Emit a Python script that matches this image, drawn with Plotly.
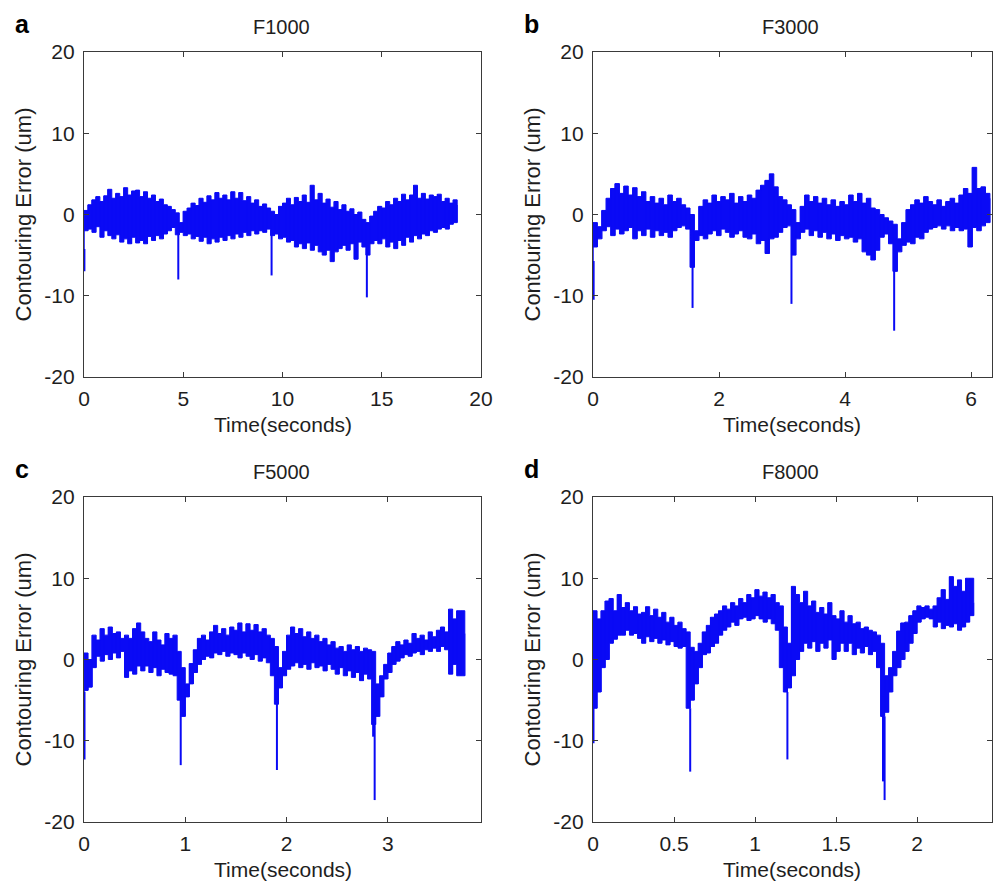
import numpy as np
import plotly.graph_objects as go

# ---------------- data ----------------
# Panel a: F1000, sample interval 0.2 s, upper / lower envelope of the error band (um)
dt_a = 0.2
up_a = [0.5, 1.2, 1.8, 2.2, 1.6, 2.3, 3.1, 2.0, 2.6, 2.2, 3.3, 2.4, 2.9, 3.0, 2.2, 2.8, 2.0, 2.4, 1.6, 1.9,
        1.2, 1.0, 0.6, 0.2, -1.0, 0.4, 0.8, 1.4, 1.1, 2.0, 1.5, 2.3, 1.8, 2.7, 2.0, 2.4, 1.8, 2.8, 2.0, 2.7,
        1.7, 2.2, 1.4, 1.8, 1.0, 1.3, 0.8, 0.4, 0.0, 1.0, 1.4, 2.0, 1.2, 2.1, 1.6, 2.4, 1.5, 3.6, 1.8, 2.6,
        1.4, 1.9, 0.9, 1.6, 0.6, 1.2, 0.4, 0.7, 0.0, 0.3, -0.6, -1.0, -0.2, 0.4, 1.0, 0.8, 1.6, 1.2, 2.0, 1.6,
        2.5, 1.8, 2.4, 3.6, 2.0, 2.6, 1.9, 2.4, 2.2, 2.5, 1.6, 2.0, 1.4, 1.8, 1.2]
lo_a = [-4.5, -2.0, -1.8, -2.2, -1.5, -2.8, -2.0, -2.6, -3.0, -2.5, -3.4, -3.0, -3.6, -2.8, -3.5, -3.2, -3.6, -2.7, -3.2, -2.6,
        -3.0, -2.4, -2.0, -1.6, -2.5, -2.2, -2.6, -2.4, -3.0, -2.7, -3.3, -2.8, -3.6, -3.0, -3.4, -2.8, -3.2, -2.6, -3.0, -2.4,
        -2.8, -2.2, -2.6, -2.0, -2.4, -2.0, -2.2, -1.8, -2.6, -2.4, -3.0, -2.8, -3.4, -3.2, -4.0, -3.6, -4.2, -3.5, -4.4, -3.8,
        -4.6, -5.0, -4.4, -5.8, -4.6, -4.2, -3.8, -4.4, -3.6, -5.5, -3.4, -4.0, -5.0, -3.6, -3.2, -3.6, -3.0, -4.0, -3.4, -4.2,
        -3.2, -3.8, -2.8, -3.4, -2.6, -3.0, -2.4, -2.6, -2.0, -2.2, -1.8, -1.6, -1.8, -1.2, -1.0]
spike_t_a = [0.02, 4.75, 9.45, 14.25]
spike_v_a = [-7.0, -8.0, -7.5, -10.2]

# Panel b: F3000, sample interval 0.07 s
dt_b = 0.07
up_b = [-1.0, -1.5, 0.5, 2.0, 3.2, 3.8, 2.6, 3.5, 2.4, 3.3, 2.2, 2.8, 1.6, 2.2, 1.4, 2.0, 1.2, 2.4, 1.6, 2.0,
        1.2, 0.8, 0.0, -2.0, 1.0, 1.8, 1.4, 2.4, 1.6, 2.2, 1.8, 2.6, 1.4, 2.2, 1.6, 2.4, 2.0, 3.0, 3.6, 4.2,
        5.0, 3.4, 2.2, 1.8, 1.2, 0.6, -1.0, 1.0, 2.4, 1.6, 2.2, 1.4, 2.0, 1.2, 1.8, 1.0, 1.6, 1.2, 2.4, 1.6,
        2.6, 1.4, 2.0, 0.8, 0.6, 0.0, -0.4, -0.8, -1.2, -3.0, -1.0, 0.6, 1.2, 1.8, 1.4, 2.2, 1.6, 1.2, 1.8, 1.0,
        1.6, 2.0, 1.4, 2.4, 3.2, 2.6, 5.8, 3.2, 3.4, 2.6, 2.0]
lo_b = [-6.0, -4.0, -3.0, -2.0, -1.5, -2.6, -1.8, -2.4, -2.0, -1.6, -3.0, -2.0, -2.6, -1.8, -2.8, -2.0, -2.6, -2.2, -2.8, -2.0,
        -1.6, -1.4, -1.8, -6.5, -3.2, -2.6, -3.0, -2.4, -2.0, -2.6, -1.8, -2.2, -2.8, -2.4, -2.0, -2.8, -3.0, -2.4, -3.6, -3.2,
        -4.8, -3.0, -2.8, -2.2, -1.6, -1.4, -5.0, -3.0, -2.2, -1.8, -2.6, -2.0, -2.8, -2.2, -3.0, -2.4, -3.2, -2.6, -3.0, -2.8,
        -3.4, -3.0, -4.6, -5.0, -5.6, -4.4, -2.8, -2.4, -3.6, -7.0, -4.6, -3.8, -3.4, -3.6, -2.8, -3.0, -2.2, -1.8, -1.6, -1.4,
        -1.8, -1.4, -2.0, -1.6, -2.0, -1.8, -4.0, -1.6, -2.0, -1.4, -1.0]
spike_t_b = [0.01, 1.58, 3.15, 4.78]
spike_v_b = [-10.5, -11.5, -11.0, -14.3]

# Panel c: F5000, sample interval 0.04 s
dt_c = 0.04
up_c = [0.8, 0.0, 3.0, 2.4, 3.8, 3.0, 4.0, 3.2, 3.4, 2.6, 3.0, 2.6, 3.8, 4.5, 3.4, 2.6, 2.2, 3.4, 2.4, 1.8,
        3.2, 2.6, 3.0, 1.0, -1.0, -3.0, -0.5, 1.2, 2.6, 3.0, 2.4, 3.4, 4.2, 3.2, 3.8, 3.0, 4.0, 3.6, 4.5, 3.4,
        4.4, 3.6, 4.3, 3.4, 3.8, 3.0, 2.6, 1.6, -1.0, 1.0, 3.0, 4.0, 3.2, 3.8, 2.8, 3.4, 2.6, 3.0, 2.2, 2.6,
        1.8, 2.2, 1.4, 1.6, 1.0, 1.8, 1.2, 1.6, 1.0, 1.4, 1.2, 1.0, -3.0, -2.0, -0.6, 0.8, 1.6, 2.2, 1.8, 2.4,
        2.0, 3.2, 2.6, 3.0, 2.4, 3.4, 2.8, 3.6, 4.0, 3.4, 6.2, 5.0, 6.0, 6.0, 3.2]
lo_c = [-4.0, -3.8, -3.4, -1.0, 0.4, -0.2, 0.6, 0.0, 0.8, 0.2, 1.0, -2.2, -1.4, -1.8, -0.8, -1.4, -0.8, -1.6, -1.0, -2.0,
        -1.2, -1.6, -1.8, -2.0, -5.0, -7.0, -4.6, -3.0, -1.6, -0.6, 0.0, 0.4, 0.2, 0.8, 0.6, 1.0, 0.4, 0.8, 0.6, 0.2,
        0.8, 0.4, 0.0, 0.6, -0.2, 0.2, -0.4, -2.0, -5.5, -3.5, -2.0, -1.2, -0.8, -0.4, -1.0, -0.6, -1.2, -0.4, -1.0, -0.8,
        -1.4, -0.6, -1.2, -1.8, -1.0, -2.0, -1.4, -2.2, -1.6, -2.6, -1.8, -2.4, -8.0, -7.0, -4.6, -2.4, -1.6, -0.6, -0.2, 0.2,
        0.6, 0.4, 0.8, 1.0, 0.6, 1.2, 1.0, 1.4, 1.0, 1.6, 1.2, -1.8, -0.6, -2.0, -2.0]
spike_t_c = [0.005, 0.955, 1.905, 2.855, 2.87]
spike_v_c = [-12.3, -13.0, -13.6, -9.5, -17.3]

# Panel d: F8000, sample interval 0.025 s
dt_d = 0.025
up_d = [6.0, 5.0, 6.0, 7.2, 7.5, 6.0, 8.0, 6.4, 7.0, 6.0, 6.5, 5.6, 5.8, 6.5, 5.4, 6.2, 5.2, 5.8, 4.6, 5.2,
        4.2, 4.6, 3.8, 3.4, 1.5, 1.0, 2.0, 3.4, 4.2, 5.2, 5.6, 6.0, 6.6, 6.2, 7.0, 6.6, 7.5, 7.0, 8.0, 7.6,
        8.6, 7.8, 8.3, 7.6, 8.0, 7.0, 6.6, 4.0, 2.0, 9.0, 8.0, 7.0, 8.4, 6.6, 7.2, 5.8, 6.4, 5.6, 7.0, 5.4,
        5.0, 6.0, 4.6, 5.4, 4.4, 4.6, 3.8, 4.0, 3.6, 3.4, 3.0, 2.0, -2.0, -1.0, 1.0, 3.5, 4.5, 4.6, 5.4, 6.0,
        6.6, 6.4, 6.6, 6.2, 6.6, 7.6, 8.6, 7.4, 10.2, 9.0, 9.8, 8.4, 10.0, 10.0, 7.0]
lo_d = [-5.0, -6.0, -4.0, -1.0, 0.0, 2.0, 2.5, 3.0, 3.0, 3.6, 3.0, 3.2, 2.6, 2.0, 2.8, 2.2, 2.6, 2.0, 2.4, 1.8,
        2.2, 1.6, 1.4, 1.6, -6.0, -5.0, -3.0, -1.0, 0.6, 0.8, 1.6, 2.0, 3.0, 3.6, 4.0, 4.6, 4.2, 5.0, 5.2, 4.8,
        5.0, 5.4, 5.0, 4.6, 5.0, 4.4, 3.6, -1.0, -4.0, -3.5, -2.0, 0.0, 1.0, 2.0, 1.4, 2.2, 1.0, 2.0, 1.4, 2.4,
        0.0, 1.0, 2.0, 1.0, 2.0, 0.6, 1.4, 0.8, 1.6, 0.6, 1.0, -1.0, -7.0, -6.5, -4.0, -2.0, -1.0, 0.0, 1.0, 2.0,
        3.2, 4.6, 5.0, 5.2, 5.0, 4.0, 4.6, 3.8, 4.2, 4.0, 4.4, 3.6, 4.0, 4.6, 5.4]
spike_t_d = [0.003, 0.6, 1.2, 1.79, 1.8]
spike_v_d = [-10.3, -13.8, -12.3, -15.0, -17.3]

titles = ["F1000", "F3000", "F5000", "F8000"]
letters = ["a", "b", "c", "d"]
x_ticks = [[0, 5, 10, 15, 20], [0, 2, 4, 6], [0, 1, 2, 3], [0, 0.5, 1, 1.5, 2]]
x_ranges = [[0, 20], [0, 6.333], [0, 3.92], [0, 2.463]]
y_ticks = [-20, -10, 0, 10, 20]
x_title = "Time(seconds)"
y_title = "Contouring Error (um)"

# ---------------- figure ----------------
W, H = 993, 885
BLUE = "#0a0af5"
FONT = "Liberation Sans, Arial, sans-serif"
TXT = "#1e1e1e"

# plot rectangles in pixels: (left, right, top, bottom)
rects = [(84, 481, 52, 377), (593, 992, 52, 377), (84, 481, 497, 822), (593, 992, 497, 822)]

series = [
    (dt_a, up_a, lo_a, spike_t_a, spike_v_a),
    (dt_b, up_b, lo_b, spike_t_b, spike_v_b),
    (dt_c, up_c, lo_c, spike_t_c, spike_v_c),
    (dt_d, up_d, lo_d, spike_t_d, spike_v_d),
]

fig = go.Figure()
annotations = []
layout_axes = {}

for k, (dt, up, lo, st, sv) in enumerate(series):
    xa = "x" if k == 0 else f"x{k+1}"
    ya = "y" if k == 0 else f"y{k+1}"
    t = np.arange(len(up)) * dt
    up = np.array(up)
    lo = np.array(lo)
    # blocky band: upper envelope as steps forward, lower envelope as steps backward
    fig.add_trace(go.Scatter(
        x=np.concatenate([t, t[::-1]]), y=np.concatenate([up, lo[::-1]]),
        mode="lines", fill="toself", fillcolor=BLUE, line_shape="hv",
        line=dict(color=BLUE, width=1.0), xaxis=xa, yaxis=ya,
        hoverinfo="skip", showlegend=False))
    # thin needles joining the extremes of each sample (vertical strokes)
    nx, ny = [], []
    for i in range(len(t)):
        nx += [t[i], t[i], None]
        ny += [lo[i], up[i], None]
    fig.add_trace(go.Scatter(x=nx, y=ny, mode="lines",
                             line=dict(color=BLUE, width=1.0),
                             xaxis=xa, yaxis=ya, showlegend=False, hoverinfo="skip"))
    # downward spikes
    sx, sy = [], []
    for ts, vs in zip(st, sv):
        base = float(np.interp(ts, t, lo))
        sx += [ts, ts, None]
        sy += [base, vs, None]
    fig.add_trace(go.Scatter(x=sx, y=sy, mode="lines",
                             line=dict(color=BLUE, width=2.0),
                             xaxis=xa, yaxis=ya, showlegend=False))

    L, R, T, B = rects[k]
    axcommon = dict(showline=True, mirror="ticks", linecolor="#3a3a3a", linewidth=1.2,
                    ticks="inside", ticklen=5, tickcolor="#3a3a3a", showgrid=False,
                    zeroline=False, automargin=False,
                    tickfont=dict(family=FONT, size=21, color=TXT))
    layout_axes["xaxis" if k == 0 else f"xaxis{k+1}"] = dict(
        axcommon, domain=[L / W, R / W], anchor=ya, range=x_ranges[k],
        tickvals=x_ticks[k], ticktext=[f"{v:g}" for v in x_ticks[k]], ticklabelstandoff=3)
    layout_axes["yaxis" if k == 0 else f"yaxis{k+1}"] = dict(
        axcommon, domain=[1 - B / H, 1 - T / H], anchor=xa, range=[-20, 20],
        tickvals=y_ticks, ticktext=[str(v) for v in y_ticks], ticklabelstandoff=4)

    annotations.append(dict(text=titles[k], x=(L + 197) / W,
                            y=1 - (T - 25) / H, xref="paper", yref="paper", showarrow=False,
                            xanchor="center", yanchor="middle",
                            font=dict(family=FONT, size=20, color=TXT)))
    annotations.append(dict(text=f"<b>{letters[k]}</b>", x=(L - 62) / W, y=1 - (T - 28) / H,
                            xref="paper", yref="paper", showarrow=False,
                            xanchor="center", yanchor="middle",
                            font=dict(family=FONT, size=25, color="#000000")))
    annotations.append(dict(text=x_title, x=(L + 199) / W, y=1 - (B + 47) / H,
                            xref="paper", yref="paper", showarrow=False,
                            xanchor="center", yanchor="middle",
                            font=dict(family=FONT, size=21, color=TXT)))
    annotations.append(dict(text=y_title, x=(L - 61) / W, y=1 - ((T + B) / 2) / H,
                            xref="paper", yref="paper", showarrow=False, textangle=-90,
                            xanchor="center", yanchor="middle",
                            font=dict(family=FONT, size=22, color=TXT)))

fig.update_layout(width=W, height=H, margin=dict(l=0, r=0, t=0, b=0, pad=0),
                  paper_bgcolor="white", plot_bgcolor="white",
                  annotations=annotations, showlegend=False, **layout_axes)

fig.write_html("out.html", config={"displayModeBar": False})
